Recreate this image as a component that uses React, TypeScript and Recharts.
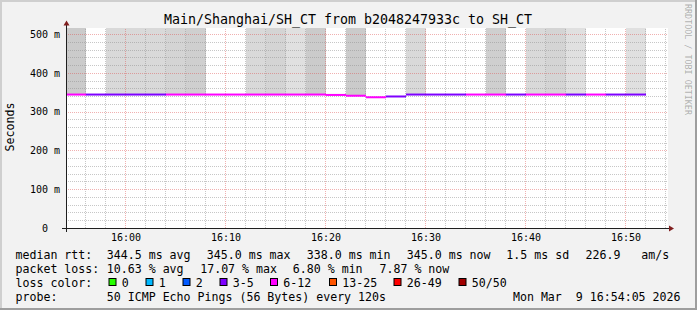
import React from 'react';
import { ComposedChart, Bar, Cell, XAxis, YAxis, Scatter, ReferenceLine } from 'recharts';

// ---- data (2-minute slots) ----
const slotLabels = ['15:54','15:56','15:58','16:00','16:02','16:04','16:06','16:08','16:10','16:12','16:14','16:16','16:18','16:20','16:22','16:24','16:26','16:28','16:30','16:32','16:34','16:36','16:38','16:40','16:42','16:44','16:46','16:48','16:50','16:52'];
// minutes after 15:54 at each slot's centre
const slotMid = [1,3,5,7,9,11,13,15,17,19,21,23,25,27,29,31,33,35,37,39,41,43,45,47,49,51,53,55,57,59];
const medianMs: (number | null)[] = [345,345,345,345,345,345,345,345,345,345,345,345,345,344,342,338,340,345,345,345,345,345,345,345,345,345,345,345,345,null];
const lossPct: (number | null)[] = [12.0,8.0,7.2,8.0,6.8,12.0,12.4,12.2,12.6,12.0,12.2,12.0,13.0,12.4,17.07,14.0,8.2,8.4,7.6,8.4,12.0,12.2,7.0,12.0,12.4,8.0,12.2,8.0,7.87,null];
// smoke: upper end of ping spread (ms), 0 = no visible smoke
const smokeTopMs = [516,0,516,516,516,516,516,0,0,516,516,516,516,0,516,0,0,516,0,0,0,516,0,516,516,516,0,0,516,0];
// smoke density level 1 (light) .. 5 (dense)
const smokeLevel = [5,0,2,2,2,3,4,0,0,2,3,1,5,0,5,0,0,2,0,0,0,4,0,2,3,1,0,0,1,0];

const yTicks = [0,100,200,300,400,500];
const yTickLabels = ['0','100 m','200 m','300 m','400 m','500 m'];
const xTicks = [6,16,26,36,46,56];
const xTickLabels = ['16:00','16:10','16:20','16:30','16:40','16:50'];
const hMinorMs = [20,40,60,80,120,140,160,180,220,240,260,280,320,340,360,380,420,440,460,480];
const hMajorMs = [100,200,300,400,500];
const vMinorMin = [2,4,8,10,12,14,18,20,22,24,28,30,32,34,38,40,42,44,48,50,52,54,58,60];
const vMajorMin = [6,16,26,36,46,56];

const lossLegend = ['0','1','2','3-5','6-12','13-25','26-49','50/50'];
const lossColors = ['#26ff00','#00b8ff','#0059ff','#7e00ff','#ff00ff','#ff5500','#ff0000','#a10000'];
const lossBoxX = [108.5,145.5,182.5,219.5,270,329,393.5,458.5];
const smokeGrays = ['none','#e0e0e0','#d9d9d9','#d4d4d4','#cfcfcf','#cbcbcb'];

const lossColor = (pct: number) => {
  const pings = pct / 2;
  if (pings >= 50) return lossColors[7];
  if (pings >= 26) return lossColors[6];
  if (pings >= 13) return lossColors[5];
  if (pings >= 6) return lossColors[4];
  if (pings >= 3) return lossColors[3];
  if (pings >= 2) return lossColors[2];
  if (pings >= 1) return lossColors[1];
  return lossColors[0];
};

const rows = slotLabels.map((slot, i) => {
  const m = medianMs[i];
  const top = smokeTopMs[i];
  return {
    slot,
    mid: slotMid[i],
    median: m,
    loss: lossPct[i],
    smokeBase: m != null && top > 0 ? m : 0,
    smoke: m != null && top > 0 ? top - m : 0,
    level: smokeLevel[i],
  };
});

const MONO = '"DejaVu Sans Mono", monospace';
const SLOT_PX = 20;
const PLOT_BOTTOM = 228;

const MedianShape = (p: any) => {
  const { cx, cy, payload } = p;
  if (!payload || payload.median == null || !isFinite(cy) || !isFinite(cx)) return null;
  return <rect x={cx - SLOT_PX / 2} y={cy - 0.6} width={SLOT_PX} height={2} fill={lossColor(payload.loss)} />;
};

const gridShape = (color: string, opacity: number) => (p: any) => {
  const { x1, y1, x2, y2 } = p;
  if (x1 == null || y1 == null) return null;
  if (Math.abs(x1 - x2) < 0.01) {
    const x = Math.round(x1) - 0.5;
    return <line x1={x} x2={x} y1={y1} y2={y2} stroke={color} strokeOpacity={opacity} strokeWidth={1} strokeDasharray="1 1" />;
  }
  const y = Math.round(y1) + 0.5;
  return <line x1={x1} x2={x2 + 2} y1={y} y2={y} stroke={color} strokeOpacity={opacity} strokeWidth={1} strokeDasharray="1 1" />;
};
const minorShape = gridShape('#8f8f8f', 0.5);
const majorShape = gridShape('#de4f4f', 0.45);

const XTick = (p: any) => {
  const idx = xTicks.indexOf(p.payload.value);
  return (
    <text x={p.x} y={PLOT_BOTTOM + 13} textAnchor="middle" fontFamily={MONO} fontSize={10} fill="#000">
      {idx >= 0 ? xTickLabels[idx] : ''}
    </text>
  );
};
const YTick = (p: any) => {
  const v = p.payload.value;
  const idx = yTicks.indexOf(v);
  const hasUnit = v !== 0;
  return (
    <text x={p.x - 6 - (hasUnit ? 0 : 12)} y={p.y + 3.7} textAnchor="end" fontFamily={MONO} fontSize={10} fill="#000">
      {idx >= 0 ? yTickLabels[idx] : ''}
    </text>
  );
};

const LT = (props: { x: number; y: number; children: React.ReactNode; anchor?: 'start' | 'end' }) => (
  <text x={props.x} y={props.y} textAnchor={props.anchor || 'start'} fontFamily={MONO} fontSize={11.6} fill="#000" xmlSpace="preserve" style={{ whiteSpace: 'pre' }}>
    {props.children}
  </text>
);

export default function App() {
  const r1 = 258.7, r2 = 272.7, r3 = 286.7, r4 = 300.7;
  return (
    <div style={{ position: 'absolute', left: 0, top: 0, width: 697, height: 310, background: '#f2f2f2', overflow: 'hidden' }}>
      <div style={{ position: 'absolute', left: 66, top: 28, width: 602, height: 200, background: '#ffffff' }} />
      <div style={{ position: 'absolute', left: 0, top: 0 }}>
        <ComposedChart width={697} height={310} data={rows} margin={{ top: 28, right: 31, bottom: 52, left: 6 }} barCategoryGap={0} barGap={0}>
          <XAxis xAxisId="cat" dataKey="slot" type="category" hide />
          <XAxis xAxisId="time" dataKey="mid" type="number" domain={[0, 60]} ticks={xTicks} allowDataOverflow axisLine={false} tickLine={false} tickSize={0} tickMargin={0} height={30} tick={<XTick />} interval={0} />
          <YAxis type="number" domain={[0, 515.5]} ticks={yTicks} allowDataOverflow axisLine={false} tickLine={false} tickSize={0} tickMargin={0} width={60} tick={<YTick />} interval={0} />
          <Bar xAxisId="cat" dataKey="smokeBase" stackId="s" fill="transparent" isAnimationActive={false} />
          <Bar xAxisId="cat" dataKey="smoke" stackId="s" isAnimationActive={false}>
            {rows.map((r, i) => (
              <Cell key={i} fill={smokeGrays[r.level]} />
            ))}
          </Bar>
          {hMinorMs.map((v) => (
            <ReferenceLine key={'hm' + v} y={v} xAxisId="time" shape={minorShape} />
          ))}
          {vMinorMin.map((v) => (
            <ReferenceLine key={'vm' + v} x={v} xAxisId="time" shape={minorShape} />
          ))}
          {hMajorMs.map((v) => (
            <ReferenceLine key={'hM' + v} y={v} xAxisId="time" shape={majorShape} />
          ))}
          {vMajorMin.map((v) => (
            <ReferenceLine key={'vM' + v} x={v} xAxisId="time" shape={majorShape} />
          ))}
          <Scatter xAxisId="time" dataKey="median" shape={<MedianShape />} isAnimationActive={false} />
        </ComposedChart>
      </div>
      <svg width={697} height={310} style={{ position: 'absolute', left: 0, top: 0, pointerEvents: 'none' }}>
        {/* frame shading */}
        <rect x={0} y={0} width={697} height={2} fill="#cfcfcf" />
        <rect x={0} y={0} width={2} height={310} fill="#cfcfcf" />
        <rect x={0} y={308} width={697} height={2} fill="#9e9e9e" />
        <rect x={695} y={0} width={2} height={310} fill="#9e9e9e" />
        {/* axes */}
        <line x1={62} x2={669} y1={228.5} y2={228.5} stroke="#1f1f1f" strokeWidth={1} />
        <line x1={66.5} x2={66.5} y1={232} y2={25} stroke="#1f1f1f" strokeWidth={1} />
        <polygon points="669,225.5 669,231.5 674,228.5" fill="#801f1f" />
        <polygon points="63.5,25.5 69.5,25.5 66.5,20.5" fill="#801f1f" />
        {/* title */}
        <text x={348} y={24} textAnchor="middle" fontFamily={MONO} fontSize={13.3} fill="#000">
          Main/Shanghai/SH_CT from b2048247933c to SH_CT
        </text>
        {/* watermark */}
        <text x={684.5} y={59.5} transform="rotate(90 684.5 59.5)" textAnchor="middle" fontFamily={MONO} fontSize={8.4} fill="#000" fillOpacity={0.3}>
          RRDTOOL / TOBI OETIKER
        </text>
        {/* y axis title */}
        <text x={14} y={127} transform="rotate(-90 14 127)" textAnchor="middle" fontFamily={MONO} fontSize={11.6} fill="#000">
          Seconds
        </text>
        {/* legend */}
        <LT x={15.5} y={r1}>median rtt:</LT>
        <LT x={106.8} y={r1}>344.5 ms avg</LT>
        <LT x={206.8} y={r1}>345.0 ms max</LT>
        <LT x={306.8} y={r1}>338.0 ms min</LT>
        <LT x={406.8} y={r1}>345.0 ms now</LT>
        <LT x={506.3} y={r1}>1.5 ms sd</LT>
        <LT x={585.5} y={r1}>226.9</LT>
        <LT x={641.2} y={r1}>am/s</LT>

        <LT x={15.5} y={r2}>packet loss:</LT>
        <LT x={106.8} y={r2}>10.63 % avg</LT>
        <LT x={200.2} y={r2}>17.07 % max</LT>
        <LT x={292.8} y={r2}>6.80 % min</LT>
        <LT x={379.5} y={r2}>7.87 % now</LT>

        <LT x={15.5} y={r3}>loss color:</LT>
        {lossLegend.map((lab, i) => (
          <g key={lab}>
            <rect x={lossBoxX[i] + 0.5} y={278.5} width={7} height={7} fill={lossColors[i]} stroke="#000" strokeWidth={1} />
            <LT x={lossBoxX[i] + 13.3} y={r3}>{lab}</LT>
          </g>
        ))}

        <LT x={15.5} y={r4}>probe:</LT>
        <LT x={106.8} y={r4}>50 ICMP Echo Pings (56 Bytes) every 120s</LT>
        <LT x={680.5} y={r4} anchor="end">Mon Mar  9 16:54:05 2026</LT>
      </svg>
    </div>
  );
}
